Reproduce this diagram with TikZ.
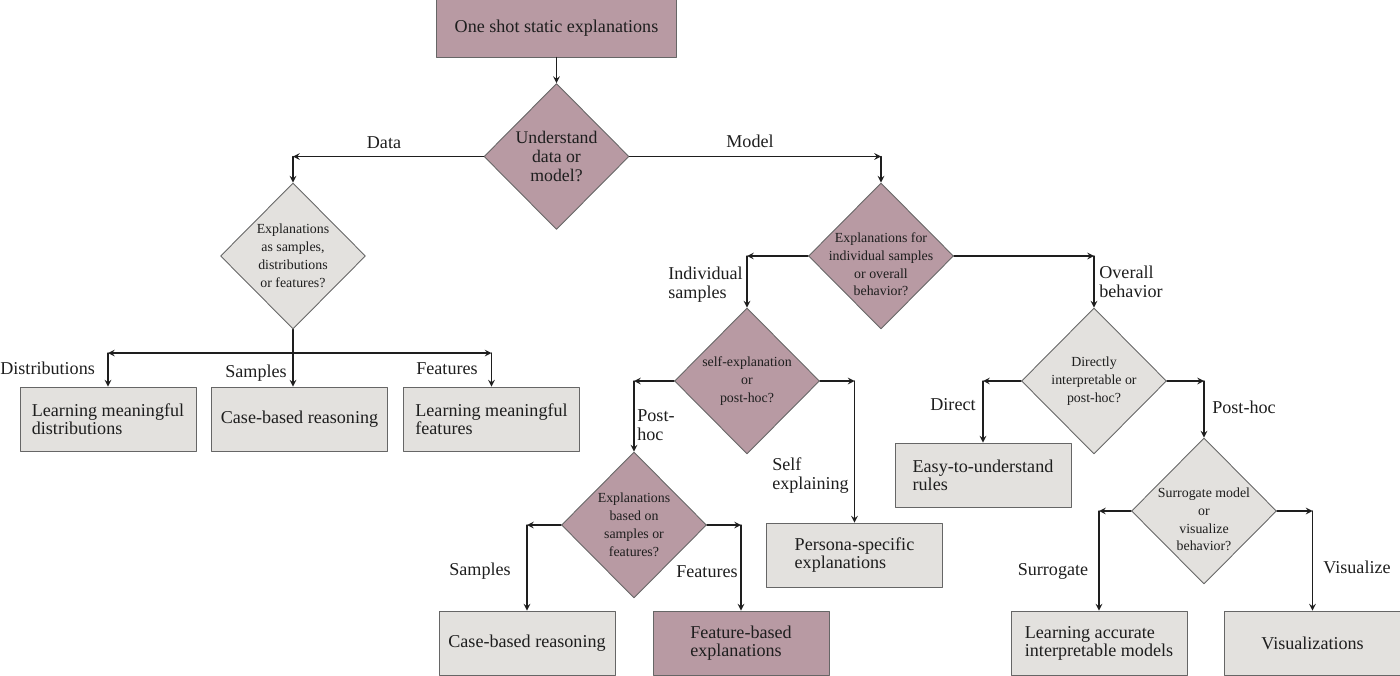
\documentclass[tikz,border=0pt]{standalone}
\usepackage{fontspec}
\setmainfont{Liberation Serif}
\usetikzlibrary{shapes.geometric}
\definecolor{mauve}{HTML}{B89AA3}
\definecolor{boxgray}{HTML}{E3E1DE}
\definecolor{ink}{HTML}{1E1E1E}
\tikzset{
  qbox/.style={rectangle,draw=black!60,line width=0.5pt,fill=boxgray,minimum width=3.52cm,minimum height=1.28cm,align=left,font=\fontsize{10.3}{10.2}\selectfont},
  mbox/.style={qbox,fill=mauve},
  qdiam/.style={diamond,draw=black!60,line width=0.5pt,fill=boxgray,minimum width=2.9cm,minimum height=2.92cm,inner sep=-7pt,align=center,font=\fontsize{7.9}{10.2}\selectfont},
  mdiam/.style={qdiam,fill=mauve},
  lbl/.style={inner sep=0pt,align=left,font=\fontsize{10.3}{10.8}\selectfont},
  conn/.style={->,draw=ink,line width=0.7pt}
}
\begin{document}
\begin{tikzpicture}[>=stealth,line join=round,line cap=round,x=0.02cm,y=-0.02cm,text=ink]
\useasboundingbox (0,0) rectangle (1400,676);
% start
\node[mbox,minimum width=4.8cm,minimum height=1.16cm] (top) at (556.5,28) {One shot static explanations};
% decisions
\node[mdiam,font=\fontsize{10.1}{10.8}\selectfont] (d1) at (556.5,156.5) {Understand\\data or\\model?};
\node[qdiam] (d2) at (293,256) {Explanations\\as samples,\\distributions\\or features?};
\node[mdiam] (d3) at (881,256) {\rule{0pt}{15pt}Explanations for\\individual samples\\or overall\\behavior?};
\node[mdiam] (d4) at (747,381) {self-explanation\\or\\post-hoc?};
\node[qdiam] (d5) at (1094,381) {Directly\\interpretable or\\post-hoc?};
\node[mdiam] (d6) at (634,525) {Explanations\\based on\\samples or\\features?};
\node[qdiam] (d7) at (1204,511) {\rule{0pt}{15pt}Surrogate model\\or\\visualize\\behavior?};
% outcomes
\node[qbox] (bA) at (108,419) {Learning meaningful\\distributions};
\node[qbox] (bB) at (299.5,419) {Case-based reasoning};
\node[qbox] (bC) at (491.5,419) {Learning meaningful\\features};
\node[qbox] (bD) at (527,643) {Case-based reasoning};
\node[mbox] (bE) at (741,643) {Feature-based\\explanations};
\node[qbox] (bF) at (854.5,555) {Persona-specific\\explanations};
\node[qbox] (bG) at (983,475) {Easy-to-understand\\rules};
\node[qbox] (bH) at (1099,643) {Learning accurate\\interpretable models};
\node[qbox] (bI) at (1312.5,643) {Visualizations};
% connectors
\draw[conn] (top) -- (d1);
\draw[conn] (d1.west) -- (d1.west -| d2.north);
\draw[conn] (d1.west -| d2.north) -- (d2.north);
\draw[conn] (d1.east) -- (d1.east -| d3.north);
\draw[conn] (d1.east -| d3.north) -- (d3.north);
\draw[conn] (d3.west) -- (d3.west -| d4.north);
\draw[conn] (d3.west -| d4.north) -- (d4.north);
\draw[conn] (d3.east) -- (d3.east -| d5.north);
\draw[conn] (d3.east -| d5.north) -- (d5.north);
\coordinate (split) at (293,353);
\draw[conn] (d2.south) -- (d2.south |- bB.north);
\draw[conn] (split) -- (split -| bA.north);
\draw[conn] (split -| bA.north) -- (bA.north);
\draw[conn] (split) -- (split -| bC.north);
\draw[conn] (split -| bC.north) -- (bC.north);
\draw[conn] (d4.west) -- (d4.west -| d6.north);
\draw[conn] (d4.west -| d6.north) -- (d6.north);
\draw[conn] (d4.east) -- (d4.east -| bF.north);
\draw[conn] (d4.east -| bF.north) -- (bF.north);
\draw[conn] (d6.west) -- (d6.west -| bD.north);
\draw[conn] (d6.west -| bD.north) -- (bD.north);
\draw[conn] (d6.east) -- (d6.east -| bE.north);
\draw[conn] (d6.east -| bE.north) -- (bE.north);
\draw[conn] (d5.west) -- (d5.west -| bG.north);
\draw[conn] (d5.west -| bG.north) -- (bG.north);
\draw[conn] (d5.east) -- (d5.east -| d7.north);
\draw[conn] (d5.east -| d7.north) -- (d7.north);
\draw[conn] (d7.west) -- (d7.west -| bH.north);
\draw[conn] (d7.west -| bH.north) -- (bH.north);
\draw[conn] (d7.east) -- (d7.east -| bI.north);
\draw[conn] (d7.east -| bI.north) -- (bI.north);
% branch labels
\node[lbl] (lData) at (384,143) {Data};
\node[lbl] (lModel) at (750,141) {Model};
\node[lbl,anchor=west] (lIndiv) at (668,285) {Individual\\samples};
\node[lbl,anchor=west] (lOverall) at (1099,282) {Overall\\behavior};
\node[lbl,anchor=west] (lDistr) at (0,368) {Distributions};
\node[lbl] (lSampA) at (256,373) {Samples};
\node[lbl] (lFeatA) at (447,369) {Features};
\node[lbl,anchor=west] (lPostA) at (637,425) {Post-\\hoc};
\node[lbl] (lSampB) at (480,571) {Samples};
\node[lbl] (lFeatB) at (707,572) {Features};
\node[lbl,anchor=west] (lSelf) at (772,476) {Self\\explaining};
\node[lbl] (lDirect) at (953,405) {Direct};
\node[lbl] (lPostB) at (1244,407) {Post-hoc};
\node[lbl] (lSurr) at (1053,571) {Surrogate};
\node[lbl] (lVis) at (1357,567) {Visualize};
\end{tikzpicture}
\end{document}
